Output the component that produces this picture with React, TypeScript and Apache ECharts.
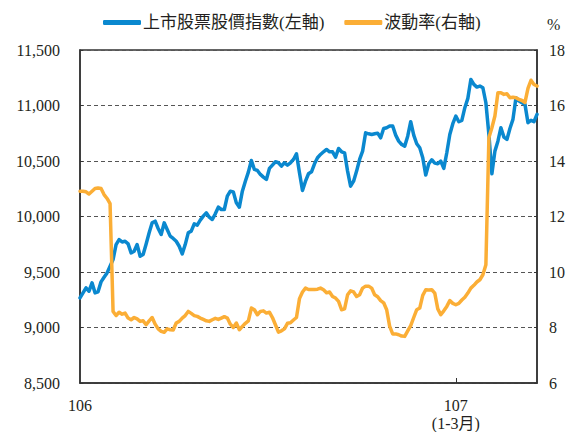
import React, { useEffect, useRef } from 'react';
import * as echarts from 'echarts';

// 上市股票股價指數 (left axis), sampled along the trading days of 106 and 107 Q1
const indexValues = [
  9266, 9312, 9357, 9327, 9402, 9312, 9321, 9411, 9453, 9492,
  9552, 9612, 9747, 9792, 9771, 9777, 9753, 9672, 9687, 9747,
  9642, 9657, 9753, 9853, 9943, 9958, 9892, 9838, 9943, 9883,
  9823, 9802, 9777, 9732, 9663, 9747, 9853, 9868, 9934, 9922,
  9967, 10003, 10033, 9994, 9973, 10024, 10084, 10063, 10063, 10183,
  10228, 10222, 10123, 10084, 10228, 10318, 10400, 10505, 10424, 10415,
  10379, 10355, 10334, 10433, 10463, 10493, 10484, 10454, 10484, 10463,
  10484, 10514, 10565, 10394, 10234, 10318, 10385, 10403, 10475, 10529,
  10559, 10583, 10604, 10583, 10583, 10535, 10613, 10583, 10574, 10409,
  10273, 10318, 10409, 10514, 10589, 10754, 10745, 10739, 10745, 10751,
  10709, 10793, 10800, 10815, 10815, 10733, 10679, 10649, 10634, 10724,
  10854, 10733, 10655, 10619, 10529, 10373, 10475, 10511, 10481, 10475,
  10499, 10433, 10574, 10739, 10836, 10905, 10854, 10866, 10980, 11064,
  11235, 11190, 11166, 11175, 11160, 11025, 10739, 10385, 10589, 10679,
  10800, 10715, 10694, 10793, 10875, 11070, 11040, 11025, 11010, 10845,
  10866, 10854, 10920,
];

// 波動率 (%) (right axis)
const volatility = [
  12.91, 12.91, 12.89, 12.81, 12.91, 13.01, 13.03, 13.01, 12.79, 12.65,
  12.46, 8.58, 8.43, 8.55, 8.48, 8.52, 8.34, 8.28, 8.36, 8.31,
  8.22, 8.24, 8.1, 8.24, 8.36, 8.12, 7.95, 7.86, 7.83, 7.95,
  7.92, 7.91, 8.16, 8.22, 8.34, 8.43, 8.58, 8.51, 8.43, 8.4,
  8.34, 8.29, 8.24, 8.22, 8.28, 8.33, 8.29, 8.34, 8.39, 8.34,
  8.12, 8.0, 8.16, 7.92, 8.04, 8.15, 8.24, 8.7, 8.64, 8.46,
  8.58, 8.6, 8.52, 8.55, 8.36, 8.1, 7.83, 7.88, 7.95, 8.15,
  8.17, 8.27, 8.36, 9.04, 9.28, 9.42, 9.37, 9.37, 9.37, 9.38,
  9.42, 9.36, 9.25, 9.28, 9.12, 9.06, 8.94, 8.64, 8.67, 9.18,
  9.32, 9.28, 9.12, 9.18, 9.42, 9.49, 9.49, 9.42, 9.18, 9.11,
  8.97, 8.89, 8.64, 8.04, 7.77, 7.77, 7.74, 7.69, 7.68, 7.88,
  8.07, 8.36, 8.64, 8.7, 9.16, 9.36, 9.35, 9.36, 9.24, 8.67,
  8.46, 8.6, 8.76, 8.97, 8.87, 8.82, 8.87, 8.99, 9.09, 9.24,
  9.42, 9.52, 9.64, 9.72, 9.9, 10.26, 14.84, 15.2, 15.62, 16.46,
  16.46, 16.4, 16.42, 16.28, 16.3, 16.28, 16.22, 16.18, 16.11, 16.62,
  16.91, 16.76, 16.7,
];

// one category per sampled trading day
const dayLabels = indexValues.map((_, i) => `d${i + 1}`);

// x-axis tick labels (year in ROC calendar) and the day index where each starts
const yearTickIndex = [0, 125];
const yearTickLabels = ['106', '107\n(1-3月)'];

const seriesNames = ['上市股票股價指數(左軸)', '波動率(右軸)'];

const FONT = '"Liberation Serif", "Times New Roman", "Noto Sans CJK TC", serif';
const BLUE = '#0a88cf';
const ORANGE = '#fbae36';

export default function App() {
  const ref = useRef<HTMLDivElement>(null);

  useEffect(() => {
    if (!ref.current) return;
    const chart = echarts.init(ref.current, undefined, { renderer: 'svg' });
    chart.setOption({
      animation: false,
      textStyle: { fontFamily: FONT },
      legend: {
        top: 9,
        left: 98,
        itemWidth: 38,
        itemHeight: 5,
        itemGap: 20,
        icon: 'roundRect',
        textStyle: { fontFamily: FONT, fontSize: 17, color: '#231f20', padding: [0, 0, 0, -3] },
        data: seriesNames,
      },
      grid: {
        left: 80,
        right: 31,
        top: 50,
        bottom: 49,
        show: true,
        borderColor: '#333',
        borderWidth: 1.5,
        containLabel: false,
      },
      xAxis: {
        type: 'category',
        data: dayLabels,
        boundaryGap: false,
        axisLine: { show: true, lineStyle: { color: '#333', width: 1.5 } },
        axisTick: {
          show: true,
          inside: true,
          length: 5,
          interval: (i: number) => i === yearTickIndex[1],
          lineStyle: { color: '#333', width: 1 },
        },
        axisLabel: {
          interval: (i: number) => yearTickIndex.indexOf(i) >= 0,
          formatter: (_v: string, i: number) => {
            const k = yearTickIndex.indexOf(i);
            return k >= 0 ? yearTickLabels[k] : '';
          },
          margin: 13,
          fontFamily: FONT,
          fontSize: 16,
          lineHeight: 18,
          color: '#231f20',
        },
        splitLine: { show: false },
      },
      yAxis: [
        {
          type: 'value',
          min: 8500,
          max: 11500,
          interval: 500,
          position: 'left',
          axisLine: { show: true, lineStyle: { color: '#333', width: 1.5 } },
          axisTick: { show: true, inside: true, length: 3, lineStyle: { color: '#333' } },
          axisLabel: {
            margin: 20,
            fontFamily: FONT,
            fontSize: 16,
            color: '#231f20',
            formatter: (v: number) => v.toLocaleString('en-US'),
          },
          splitLine: { show: true, lineStyle: { color: '#555', type: [4, 3], width: 1 } },
        },
        {
          type: 'value',
          min: 6,
          max: 18,
          interval: 2,
          position: 'right',
          name: '%',
          nameLocation: 'end',
          nameGap: 18,
          nameTextStyle: { fontFamily: FONT, fontSize: 16, color: '#231f20', align: 'left', padding: [0, 0, 0, 10] },
          axisLine: { show: true, lineStyle: { color: '#333', width: 1.5 } },
          axisTick: { show: true, inside: true, length: 3, lineStyle: { color: '#333' } },
          axisLabel: { margin: 12, fontFamily: FONT, fontSize: 16, color: '#231f20' },
          splitLine: { show: false },
        },
      ],
      series: [
        {
          name: seriesNames[0],
          type: 'line',
          yAxisIndex: 0,
          data: indexValues,
          showSymbol: false,
          symbol: 'none',
          lineStyle: { color: BLUE, width: 3.5, join: 'round', cap: 'round' },
          itemStyle: { color: BLUE },
        },
        {
          name: seriesNames[1],
          type: 'line',
          yAxisIndex: 1,
          data: volatility,
          showSymbol: false,
          symbol: 'none',
          lineStyle: { color: ORANGE, width: 3.5, join: 'round', cap: 'round' },
          itemStyle: { color: ORANGE },
        },
      ],
    });
    return () => chart.dispose();
  }, []);

  return (
    <div
      ref={ref}
      style={{ position: 'fixed', left: 0, top: 0, width: 568, height: 432, background: '#fff' }}
    />
  );
}
